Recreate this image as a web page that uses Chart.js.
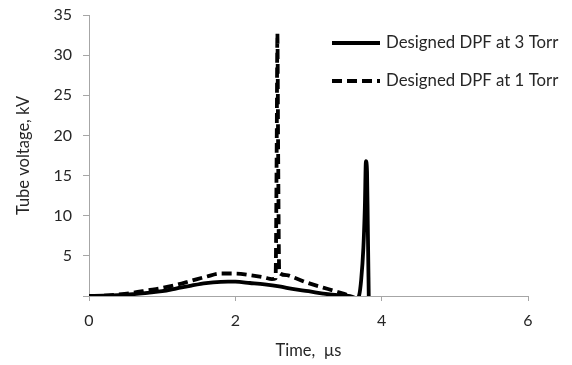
<!DOCTYPE html>
<html>
<head>
<meta charset="utf-8">
<script src="https://cdn.jsdelivr.net/npm/chart.js@4/dist/chart.umd.min.js"></script>
<style>
html,body{margin:0;padding:0;background:#fff;}
#wrap{position:relative;width:572px;height:365px;}
</style>
</head>
<body>
<div id="wrap"><canvas id="c" width="572" height="365"></canvas></div>
<script>
const seriesNames = ["Designed DPF at 3 Torr", "Designed DPF at 1 Torr"];
const timeSolid = [0,0.2,0.4,0.6,0.8,1.0,1.2,1.4,1.6,1.8,1.9,2.0,2.2,2.4,2.6,2.8,3.0,3.2,3.4,3.57,3.65,3.69,3.72,3.75,3.77,3.785,3.8,3.81,3.825];
const voltSolid = [0,0.03,0.1,0.22,0.4,0.6,0.95,1.3,1.6,1.77,1.8,1.78,1.62,1.45,1.2,0.85,0.6,0.3,0.1,0,-0.4,0,2,6,11,16.8,15.5,9,-1];
const timeDashed = [0,0.2,0.4,0.6,0.8,1.0,1.2,1.4,1.6,1.8,2.0,2.2,2.4,2.5,2.55,2.565,2.575,2.585,2.6,2.7,2.8,3.0,3.2,3.4,3.57,3.65];
const voltDashed = [0,0.05,0.2,0.4,0.7,1.0,1.4,1.9,2.4,2.8,2.8,2.6,2.3,2.1,2.2,18,32.7,18,2.9,2.6,2.3,1.6,1.05,0.5,0,-0.3];
const xTicks = [0,2,4,6];
const yTicks = [5,10,15,20,25,30,35];

const FONT = "Lato";
const TXT = "#262626";
const AX = "#a6a6a6";

function pts(xs, ys){ return xs.map((x,i)=>({x:x, y:ys[i]})); }

const legendPlugin = {
  id:'customLegend',
  afterDraw(chart){
    const ctx = chart.ctx;
    const items = chart.data.datasets;
    const ys = [43, 81];
    ctx.save();
    items.forEach((ds,i)=>{
      ctx.beginPath();
      ctx.strokeStyle = ds.borderColor;
      ctx.lineWidth = ds.borderWidth;
      ctx.setLineDash(ds.borderDash || []);
      ctx.moveTo(332, ys[i]);
      ctx.lineTo(380, ys[i]);
      ctx.stroke();
      ctx.setLineDash([]);
      ctx.fillStyle = TXT;
      ctx.font = "16.8px " + FONT;
      ctx.textBaseline = "middle";
      ctx.textAlign = "left";
      ctx.fillText(ds.label, 386, ys[i]);
    });
    ctx.restore();
  }
};

new Chart(document.getElementById('c'), {
  type:'line',
  data:{
    datasets:[
      {label:seriesNames[0], data:pts(timeSolid, voltSolid), borderColor:'#000', borderWidth:3.8, pointRadius:0, cubicInterpolationMode:'monotone', fill:false},
      {label:seriesNames[1], data:pts(timeDashed, voltDashed), borderColor:'#000', borderWidth:3.8, borderDash:[10,5], pointRadius:0, cubicInterpolationMode:'monotone', fill:false}
    ]
  },
  plugins:[legendPlugin],
  options:{
    responsive:false,
    animation:false,
    devicePixelRatio:1,
    layout:{padding:{top:15, right:44, left:0, bottom:0}},
    plugins:{legend:{display:false}, tooltip:{enabled:false}},
    scales:{
      x:{
        type:'linear', min:0, max:6,
        afterBuildTicks(s){ s.ticks = xTicks.map(v=>({value:v})); },
        afterFit(s){ s.height = 69; s.paddingLeft = 0; s.paddingRight = 0; },
        grid:{drawOnChartArea:false, drawTicks:true, tickLength:5, color:AX},
        border:{color:AX, width:1},
        ticks:{color:TXT, font:{family:FONT, size:16}, padding:10},
        title:{display:true, text:'Time,  µs', color:TXT, font:{family:FONT, size:16.5}, padding:{top:4}}
      },
      y:{
        type:'linear', min:0, max:35,
        afterBuildTicks(s){ s.ticks = [0].concat(yTicks).map(v=>({value:v})); },
        afterFit(s){ s.width = 89; s.paddingTop = 0; s.paddingBottom = 0; },
        grid:{drawOnChartArea:false, drawTicks:true, tickLength:6, color:AX},
        border:{color:AX, width:1},
        ticks:{color:TXT, font:{family:FONT, size:16}, padding:11, callback:(v)=> v===0 ? '' : String(v)},
        title:{display:true, text:'Tube voltage, kV', color:TXT, font:{family:FONT, size:16.5}, padding:{top:14, bottom:0}}
      }
    }
  }
});
</script>
</body>
</html>
